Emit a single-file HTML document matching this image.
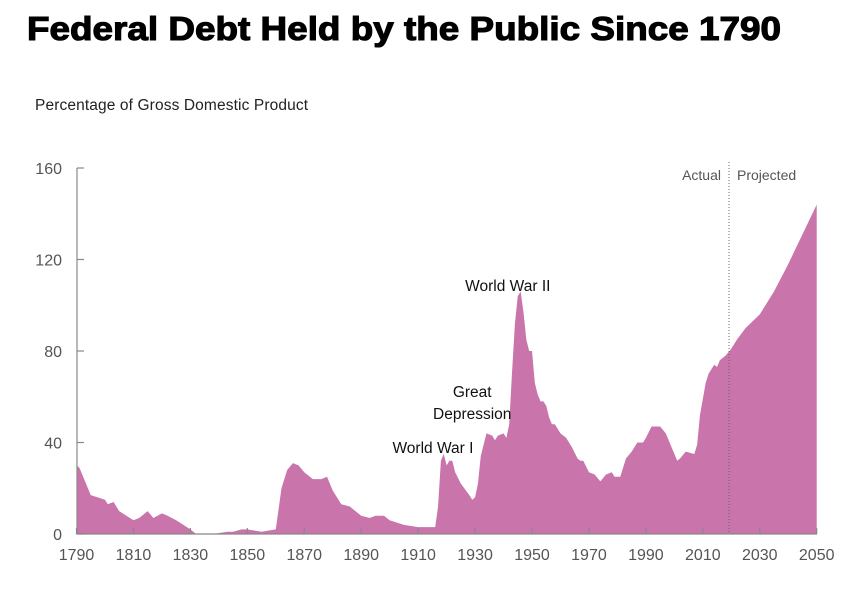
<!DOCTYPE html>
<html><head><meta charset="utf-8"><style>
body{margin:0;background:#fff;width:859px;height:597px;overflow:hidden}
svg{display:block}
</style></head><body>
<svg width="859" height="597" xmlns="http://www.w3.org/2000/svg">
<text x="27" y="40" font-family="Liberation Sans, Arial, sans-serif" font-weight="bold" font-size="33" fill="#000" stroke="#000" stroke-width="1.1" textLength="754" lengthAdjust="spacingAndGlyphs">Federal Debt Held by the Public Since 1790</text>
<text x="35" y="110" font-family="Liberation Sans, sans-serif" font-size="15.5" fill="#222" textLength="273">Percentage of Gross Domestic Product</text>
<g id="plot"></g>
</svg>
<script>
const years=[1790,1791,1795,1800,1801,1803,1805,1810,1812,1815,1817,1820,1822,1825,1830,1832,1835,1838,1843,1845,1848,1850,1855,1860,1862,1864,1866,1868,1870,1873,1876,1878,1880,1883,1886,1890,1893,1895,1898,1900,1905,1910,1915,1916,1917,1918,1919,1920,1921,1922,1923,1925,1928,1929,1930,1931,1932,1933,1934,1936,1937,1938,1940,1941,1942,1943,1944,1945,1946,1947,1948,1949,1950,1951,1952,1953,1954,1955,1956,1957,1958,1960,1962,1964,1966,1967,1968,1970,1972,1974,1976,1978,1979,1981,1983,1985,1987,1989,1990,1992,1995,1997,1999,2001,2002,2004,2007,2008,2009,2011,2012,2014,2015,2016,2017,2018,2020,2022,2025,2030,2035,2040,2045,2050];
const debt=[30,29,17,15,13,14,10,6,7,10,7,9,8,6,2,0,0,0,1,1,2,2,1,2,20,28,31,30,27,24,24,25,19,13,12,8,7,8,8,6,4,3,3,3,12,32,35,30,32,32,27,22,17,15,16,22,34,39,44,43,41,43,44,42,48,71,92,104,106,97,85,80,80,66,61,58,58,56,51,48,48,44,42,38,33,32,32,27,26,23,26,27,25,25,33,36,40,40,42,47,47,44,38,32,33,36,35,39,52,66,70,74,73,76,77,78,81,85,90,96,106,118,131,144];
const xTicks=[1790,1810,1830,1850,1870,1890,1910,1930,1950,1970,1990,2010,2030,2050];
const yTicks=[0,40,80,120,160];
const actualEndYear=2019.2;
const annotations=[["World War I",1915.2,453],["Great",1929,397],["Depression",1929,419],["World War II",1941.5,291]];

const NS="http://www.w3.org/2000/svg";
const g=document.getElementById('plot');
const X=y=>76.5+(y-1790)*(816.7-76.5)/260;
const Y=v=>534-v*(534-168)/160;
function mk(t,a){const e=document.createElementNS(NS,t);for(const k in a)e.setAttribute(k,a[k]);g.appendChild(e);return e;}
let d=`M${X(years[0])},${Y(0)}`;
years.forEach((yr,i)=>{d+=` L${X(yr).toFixed(2)},${Y(debt[i]).toFixed(2)}`;});
d+=` L${X(years[years.length-1])},${Y(0)} Z`;
const area=mk('path',{d:d,fill:'#c974aa'});


const dl=mk('line',{x1:X(actualEndYear),x2:X(actualEndYear),y1:162,y2:534,stroke:'#666','stroke-width':1,'stroke-dasharray':'1,2'});


const ax=mk('path',{d:`M77,168 V534 H817`,fill:'none',stroke:'#888','stroke-width':1.2});


yTicks.forEach(v=>{
  const t=mk('line',{x1:77,x2:84,y1:Y(v),y2:Y(v),stroke:'#888','stroke-width':1.2});
  
  
  const l=mk('text',{x:62,y:Y(v)+6,'text-anchor':'end','font-family':'Liberation Sans, sans-serif','font-size':16,fill:'#555'});
  l.textContent=v;
  
  
});
xTicks.forEach(v=>{
  const t=mk('line',{x1:X(v),x2:X(v),y1:528,y2:534,stroke:'#888','stroke-width':1.2});
  
  
  const l=mk('text',{x:X(v),y:560,'text-anchor':'middle','font-family':'Liberation Sans, sans-serif','font-size':16,fill:'#555'});
  l.textContent=v;
  
  
});
annotations.forEach(a=>{
  const l=mk('text',{x:X(a[1]),y:a[2],'text-anchor':'middle','font-family':'Liberation Sans, sans-serif','font-size':15.5,fill:'#111'});
  l.textContent=a[0];
  
  
});
const ta=mk('text',{x:X(actualEndYear)-8,y:180,'text-anchor':'end','font-family':'Liberation Sans, sans-serif','font-size':14,fill:'#555'});
ta.textContent='Actual';


const tp=mk('text',{x:X(actualEndYear)+8,y:180,'font-family':'Liberation Sans, sans-serif','font-size':14,fill:'#555'});
tp.textContent='Projected';


</script>
</body></html>
